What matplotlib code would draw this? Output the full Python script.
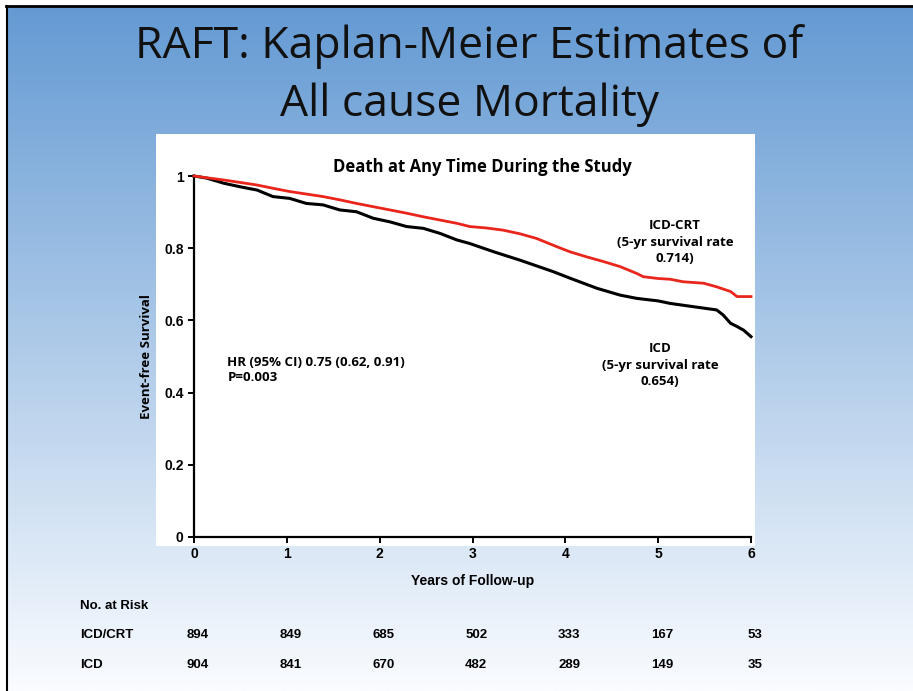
import numpy as np
import matplotlib
matplotlib.use("Agg")
import matplotlib.pyplot as plt
import matplotlib.transforms as mtransforms
from matplotlib.patches import Rectangle

# Kaplan-Meier curves (years, survival)
crt_years = [0.0, 0.14, 0.32, 0.50, 0.68, 0.85, 1.03, 1.21, 1.39, 1.57, 1.75, 1.93,
             2.11, 2.29, 2.47, 2.65, 2.83, 2.97, 3.15, 3.33, 3.51, 3.69, 3.91, 4.05,
             4.23, 4.41, 4.59, 4.77, 4.84, 5.00, 5.13, 5.27, 5.49, 5.63, 5.78, 5.85, 6.0]
crt_surv = [1.0, 0.995, 0.989, 0.982, 0.975, 0.966, 0.957, 0.950, 0.943, 0.934, 0.924, 0.915,
            0.906, 0.897, 0.887, 0.878, 0.869, 0.860, 0.856, 0.850, 0.840, 0.827, 0.804, 0.790,
            0.776, 0.763, 0.749, 0.730, 0.721, 0.716, 0.714, 0.707, 0.703, 0.693, 0.680, 0.666, 0.666]

icd_years = [0.0, 0.14, 0.32, 0.50, 0.68, 0.85, 1.03, 1.21, 1.39, 1.57, 1.75, 1.93,
             2.11, 2.29, 2.47, 2.65, 2.83, 2.97, 3.23, 3.51, 3.87, 4.05, 4.34, 4.59,
             4.77, 5.00, 5.13, 5.49, 5.63, 5.70, 5.78, 5.85, 5.92, 6.0]
icd_surv = [1.0, 0.994, 0.980, 0.970, 0.961, 0.943, 0.938, 0.924, 0.920, 0.906, 0.901, 0.883,
            0.873, 0.860, 0.855, 0.841, 0.823, 0.813, 0.790, 0.767, 0.735, 0.717, 0.689, 0.670,
            0.661, 0.654, 0.647, 0.634, 0.629, 0.615, 0.592, 0.583, 0.573, 0.555]

risk_years = [0, 1, 2, 3, 4, 5, 6]
risk_crt = [894, 849, 685, 502, 333, 167, 53]
risk_icd = [904, 841, 670, 482, 289, 149, 35]

fig = plt.figure(figsize=(9.13, 6.91), dpi=100)
W, H = 913, 691

def fx(px):
    return px / W

def fy(py):
    return 1 - py / H

# slide background gradient
bg = fig.add_axes([fx(8), 0, 1 - fx(8), fy(7)])
bg.set_zorder(-2)
top = np.array([100, 154, 211]) / 255
bottom = np.array([250, 252, 255]) / 255
t = np.linspace(0, 1, 256)[:, None]
grad = top * (1 - t) + bottom * t
bg.imshow(grad[:, None, :].repeat(2, axis=1), aspect="auto", extent=[0, 1, 0, 1])
bg.set_axis_off()

# white chart panel, drawn on the background axes
bg.add_patch(Rectangle((fx(156), fy(546)), fx(755) - fx(156), fy(134) - fy(546),
                       facecolor="white", edgecolor="none", transform=fig.transFigure,
                       zorder=5))

# slide border lines (top and left)
fig.add_artist(plt.Line2D([fx(6), 1], [fy(6), fy(6)], color="black", lw=2))
fig.add_artist(plt.Line2D([fx(7), fx(7)], [fy(6), 0], color="black", lw=1.5))

fig.text(fx(469), fy(47), "RAFT: Kaplan-Meier Estimates of", ha="center", va="center",
         fontsize=32, family="Open Sans", color="#111111")
fig.text(fx(469), fy(105), "All cause Mortality", ha="center", va="center",
         fontsize=32, family="Open Sans", color="#111111")

ax = fig.add_axes([fx(194), fy(537), fx(751) - fx(194), fy(176) - fy(537)])
ax.patch.set_alpha(0)
ax.plot(crt_years, crt_surv, color="#e8261c", lw=2, clip_on=False, zorder=3)
ax.plot(icd_years, icd_surv, color="black", lw=2.2, clip_on=False, zorder=2)
ax.set_xlim(0, 6)
ax.set_ylim(0, 1)
ax.set_xticks(risk_years)
ax.set_yticks([0, 0.2, 0.4, 0.6, 0.8, 1])
ax.set_yticklabels(["0", "0.2", "0.4", "0.6", "0.8", "1"])
for s in ["top", "right"]:
    ax.spines[s].set_visible(False)
for s in ["left", "bottom"]:
    ax.spines[s].set_linewidth(1.6)
ax.tick_params(direction="out", length=4, width=1.4, labelsize=10)
for lab in ax.get_xticklabels() + ax.get_yticklabels():
    lab.set_fontweight("bold")
    lab.set_family("Liberation Sans")

ax.set_xlabel("Years of Follow-up", fontsize=10, fontweight="bold", family="Liberation Sans",
              labelpad=9)
ax.set_ylabel("Event-free Survival", fontsize=9.5, fontweight="bold", family="Open Sans",
              labelpad=8)

ax.text(0.518, 1.0, "Death at Any Time During the Study", transform=ax.transAxes,
        ha="center", va="bottom", fontsize=12, fontweight="bold", family="Open Sans")
ax.text(5.18, 0.88, "ICD-CRT\n(5-yr survival rate\n0.714)", ha="center", va="top",
        fontsize=9.5, fontweight="bold", family="Open Sans", linespacing=1.35)
ax.text(5.02, 0.54, "ICD\n(5-yr survival rate\n0.654)", ha="center", va="top",
        fontsize=9.5, fontweight="bold", family="Open Sans", linespacing=1.35)
ax.text(0.36, 0.502, "HR (95% CI) 0.75 (0.62, 0.91)\nP=0.003", ha="left", va="top",
        fontsize=9.5, fontweight="bold", family="Open Sans", linespacing=1.2)

# number at risk table
trans = mtransforms.blended_transform_factory(ax.transData, fig.transFigure)
fig.text(fx(80), fy(606), "No. at Risk", ha="left", va="center", fontsize=9.5,
         fontweight="bold", family="Liberation Sans")
fig.text(fx(80), fy(635), "ICD/CRT", ha="left", va="center", fontsize=9.5,
         fontweight="bold", family="Liberation Sans")
fig.text(fx(80), fy(665), "ICD", ha="left", va="center", fontsize=9.5,
         fontweight="bold", family="Liberation Sans")
for yr, a, b in zip(risk_years, risk_crt, risk_icd):
    ax.text(yr + 0.04, fy(635), str(a), transform=trans, ha="center", va="center",
            fontsize=9.5, fontweight="bold", family="Liberation Sans", clip_on=False)
    ax.text(yr + 0.04, fy(665), str(b), transform=trans, ha="center", va="center",
            fontsize=9.5, fontweight="bold", family="Liberation Sans", clip_on=False)

fig.savefig("out.png", dpi=100)
